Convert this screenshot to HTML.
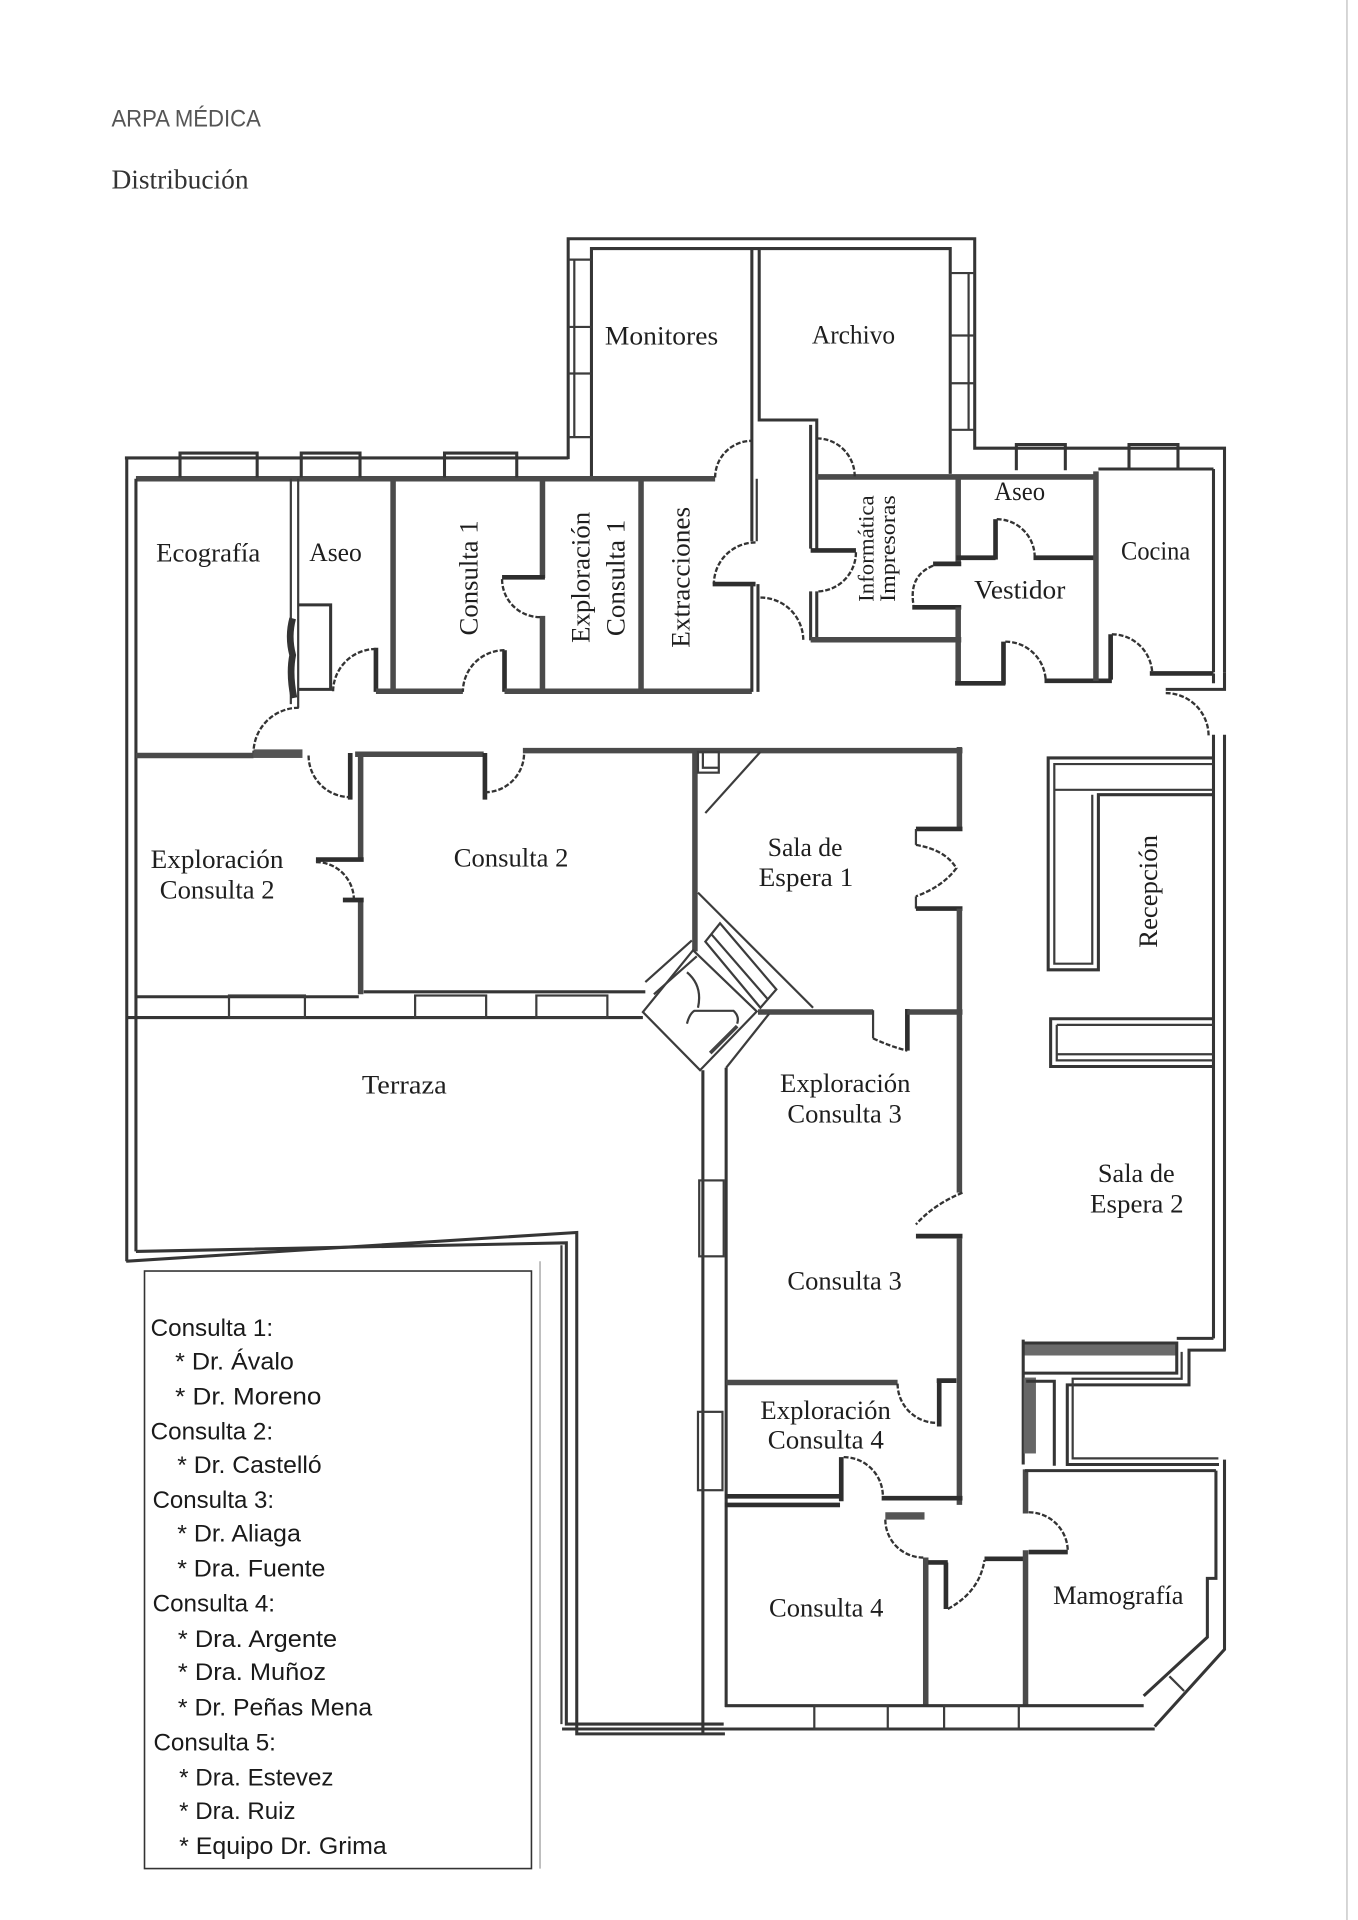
<!DOCTYPE html>
<html><head><meta charset="utf-8"><title>ARPA MÉDICA - Distribución</title>
<style>
html,body{margin:0;padding:0;background:#fff;}
svg{display:block;}
.w{stroke:#353535;stroke-width:2.5;fill:none;}
.h{stroke:#2e2e2e;stroke-width:3.8;fill:none;}
.b{stroke:#4a4a4a;stroke-width:4.5;fill:none;}
.n{stroke:#3c3c3c;stroke-width:1.8;fill:none;}
.a{stroke:#333;stroke-width:1.9;fill:none;stroke-dasharray:4 1.6;}
.lab{font-family:"Liberation Serif",serif;font-size:21.5px;fill:#1e1e1e;}
.sm{font-family:"Liberation Serif",serif;font-size:18.5px;fill:#1e1e1e;}
.leg{font-family:"Liberation Sans",sans-serif;font-size:20px;fill:#1a1a1a;}
</style></head><body>
<svg width="1358" height="1920" viewBox="0 0 1109 1568" xmlns="http://www.w3.org/2000/svg">
<rect x="0" y="0" width="1109" height="1568" fill="#fff"/>
<path d="M1100,0V1568" stroke="#c8c8c8" stroke-width="1.2"/>

<!-- header -->
<text x="91" y="103.5" font-family="Liberation Sans, sans-serif" font-size="19.5" fill="#555" textLength="122" lengthAdjust="spacingAndGlyphs">ARPA MÉDICA</text>
<text x="91" y="154" font-family="Liberation Serif, serif" font-size="22.5" fill="#333" textLength="112" lengthAdjust="spacingAndGlyphs">Distribución</text>

<!-- Monitores / Archivo block -->
<path class="w" d="M464,375V195H796V366H1000V549"/>
<path class="w" d="M483,391V203H776V387"/>
<path class="n" d="M464,212H483M464,267H483M464,305H483M464,357H483M469,212V357"/>
<path class="n" d="M776,223H796M776,274H796M776,313H796M776,351H796M791,223V351"/>
<path class="w" d="M620,203V343H667V448"/>
<path class="w" d="M614,203V442"/>
<path class="w" d="M662,347V448"/>
<path class="b" d="M111,391H584"/>
<path class="a" d="M584,390A30,30 0 0,1 614,360"/>
<path class="b" d="M667,389.5H897"/>
<path class="a" d="M667,358A31,31 0 0,1 698,389"/>

<!-- left wing top wall -->
<path class="w" d="M102,374H464"/>
<path class="w" d="M147,390V370H210V390M246,390V370H294V390M363,390V370H422V390"/>
<path class="w" d="M103.5,374V1030M111,391V1022"/>

<!-- row 1 interior -->
<path class="n" d="M237.5,391V575M243.5,391V578"/>
<path d="M239,505q-4,15 0,30q-3,15 1,35" stroke="#333" stroke-width="5.5" fill="none"/>
<path class="a" d="M244,578A37,37 0 0,0 207,615"/>
<rect x="207" y="612" width="40" height="7" fill="#555"/>
<path class="w" d="M244,494H270V563H244"/>
<path class="h" d="M307,529V565"/>
<path class="a" d="M307,530A35,35 0 0,0 272,565"/>
<path class="b" d="M321,391V565"/>
<path class="b" d="M307,564.5H378"/>
<path class="h" d="M412,531V565"/>
<path class="a" d="M412,531A34,34 0 0,0 378,565"/>
<path class="b" d="M412,564.5H614"/>
<path class="b" d="M443,391V472M443,503V565"/>
<path class="h" d="M410,471.5H445"/>
<path class="a" d="M410,473A31,31 0 0,0 441,504"/>
<path class="b" d="M523.5,391V565"/>
<path class="n" d="M618,391V442"/>
<path class="a" d="M617,443A34,34 0 0,0 583,477"/>
<path class="h" d="M582,477H617"/>
<path class="w" d="M614,477V565M619,477V565"/>
<path class="a" d="M621,488A35,35 0 0,1 656,523"/>
<path class="h" d="M662,449.5H699"/>
<path class="a" d="M699,451A32,32 0 0,1 667,483"/>
<path class="w" d="M662,483V523M667,483V521"/>
<path class="b" d="M662,522.5H785"/>
<path class="b" d="M782.5,390V461"/>
<path class="h" d="M762,460.5H785"/>
<path class="a" d="M762,462Q742,470 746,494"/>
<path class="h" d="M745,496H785"/>
<path class="b" d="M782.5,496V559"/>
<path class="h" d="M780,558H821"/>
<path class="h" d="M819.5,524V559"/>
<path class="a" d="M821,524A33,33 0 0,1 854,557"/>
<path class="h" d="M853,556H908"/>
<path class="h" d="M781,455.5H813"/>
<path class="h" d="M813,424V457"/>
<path class="a" d="M814,424A31,31 0 0,1 845,455"/>
<path class="h" d="M844,455.5H895"/>
<path class="b" d="M895,385V556"/>
<path class="w" d="M897,383H991"/>
<path class="w" d="M830,384V363H870V384M922,384V363H962V384"/>
<path class="w" d="M991,383V549"/>
<path class="h" d="M907,518V555"/>
<path class="a" d="M908,518A33,33 0 0,1 941,551"/>
<path class="h" d="M939,550H991"/>
<path class="w" d="M1000,549V563H952"/>
<path class="w" d="M991,550V558"/>
<path class="a" d="M952,566A35,35 0 0,1 987,601"/>
<path class="w" d="M991,600V1093M1000,600V1103"/>

<!-- row 2 -->
<path class="b" d="M111,617H207"/>
<path class="h" d="M286,615V653"/>
<path class="a" d="M252,617A34,34 0 0,0 286,651"/>
<path class="b" d="M290,616H395"/>
<path class="h" d="M396,615V653"/>
<path class="a" d="M396,647A32,32 0 0,0 428,615"/>
<path class="b" d="M427,613H786"/>
<path class="b" d="M294.5,615V702M294.5,735V812"/>
<path class="h" d="M258,702H297"/>
<path class="a" d="M258,704A31,31 0 0,1 289,735"/>
<path class="h" d="M280,735H297"/>
<path class="w" d="M111,814H293"/>
<path class="w" d="M297,810H527"/>
<path class="w" d="M104,831H525"/>
<rect class="n" x="187" y="813" width="62" height="18"/>
<rect class="n" x="339" y="813" width="58" height="18"/>
<rect class="n" x="438" y="813" width="58" height="18"/>
<path class="b" d="M567.5,614V777"/>
<rect class="n" x="570" y="614" width="17" height="17"/>
<path class="n" d="M574,614V627H587"/>
<path class="n" d="M576,664L621,614"/>
<path class="b" d="M783.5,610V677"/>
<path class="h" d="M748,677H786"/>
<path class="n" d="M748,677V690M748,732V742"/>
<path class="a" d="M748,690Q772,694 781,709Q770,724 748,732"/>
<path class="h" d="M748,742H786"/>
<path class="b" d="M783.5,742V974"/>
<path class="b" d="M619,826.5H713"/>
<path class="n" d="M713,825V848"/>
<path class="a" d="M713,848Q728,855 741,858"/>
<path class="h" d="M741,858V824"/>
<path class="b" d="M741,826.5H786"/>

<!-- stair / diamond -->
<path class="n" d="M570,729L664,823"/>
<path class="n" d="M576,769L588,754L634,808L621,823Z"/>
<path class="n" d="M581,763L627,816"/>
<path class="n" d="M525,826.5L566,776L618,826L571.7,874Z"/>
<path class="n" d="M527,802L565,768M534,812L569,781"/>
<path class="n" d="M593,872L628,828"/>
<path class="n" d="M561,794Q574,805 570,823M561,836Q563,828 567,825.5H599Q604,830 602,836"/>
<path d="M580,860L602,838" stroke="#444" stroke-width="3" fill="none"/>

<!-- terrace walls -->
<path class="w" d="M574,874V1416M593,872V1394"/>
<rect class="n" x="571" y="964" width="20" height="62"/>
<rect class="n" x="570" y="1153" width="20" height="64"/>
<path class="w" d="M103,1030L471,1006.5V1416H592"/>
<path class="w" d="M111,1022L462.5,1015V1408H591"/>
<path class="n" d="M458.5,1017V1408"/>

<!-- lower block -->
<path class="a" d="M786,974Q762,984 748,1000"/>
<path class="h" d="M748,1009.5H786"/>
<path class="b" d="M783.5,1011V1229"/>
<path class="b" d="M593,1129H733"/>
<path class="a" d="M733,1130A32,32 0 0,0 765,1162"/>
<path class="h" d="M767,1126V1165"/>
<path class="h" d="M765,1127.5H781"/>
<path class="h" d="M592,1222H686M592,1229H686"/>
<path class="h" d="M687,1190V1226"/>
<path class="a" d="M689,1190A32,32 0 0,1 721,1222"/>
<path class="h" d="M720,1223.5H786"/>
<rect x="723" y="1235" width="32" height="6" fill="#555"/>
<path class="a" d="M723,1241A31,31 0 0,0 754,1272"/>
<path class="b" d="M756,1272V1394"/>
<path class="h" d="M758,1276H774"/>
<path class="h" d="M772.5,1276V1314"/>
<path class="a" d="M774,1314Q800,1300 804,1274"/>
<path class="h" d="M804,1273H837"/>
<path class="b" d="M837.5,1266V1392"/>
<path class="b" d="M837.5,1200V1236"/>
<path class="a" d="M840,1235A32,32 0 0,1 872,1267"/>
<path class="h" d="M840,1267.5H872"/>
<path class="w" d="M837,1201H993"/>
<path class="w" d="M1000,1192V1347L943,1410"/>
<path class="w" d="M993,1201V1289H986V1337L934,1385"/>
<path class="n" d="M955,1369L967,1381"/>
<path class="w" d="M592,1393H934M459,1412H943"/>
<rect class="n" x="665" y="1393" width="60" height="19"/>
<rect class="n" x="771" y="1393" width="61" height="19"/>

<!-- below sala de espera 2 -->
<rect x="836" y="1097" width="125" height="10" fill="#6a6a6a"/>
<path class="w" d="M835.6,1094V1196M835.6,1096.8H961V1121.4H835.6"/>
<path class="w" d="M961,1093H991"/>
<path class="w" d="M1001,1102.6H971V1131H871.6V1196H995.5"/>
<path class="n" d="M965,1104V1126H876V1191H995"/>
<rect x="836" y="1125" width="10" height="62" fill="#666"/>
<path class="w" d="M838,1128H861V1197"/>

<!-- reception counters -->
<path class="w" d="M991,619H856V792H897V649H991"/>
<path class="n" d="M991,624H861V787H892V649"/>
<path class="n" d="M861,645H991"/>
<path class="w" d="M991,832H858V871H991"/>
<path class="n" d="M863,837H991M863,837V866H991M863,861H991"/>

<!-- room labels -->
<text class="lab" x="494" y="281.5" textLength="92.5" lengthAdjust="spacingAndGlyphs">Monitores</text>
<text class="lab" x="663" y="280.5" textLength="68" lengthAdjust="spacingAndGlyphs">Archivo</text>
<text class="lab" x="127.5" y="458.5" textLength="85" lengthAdjust="spacingAndGlyphs">Ecografía</text>
<text class="lab" x="252.5" y="458" textLength="43" lengthAdjust="spacingAndGlyphs">Aseo</text>
<text class="lab" transform="translate(390,472) rotate(-90)" x="-47" y="0" textLength="94" lengthAdjust="spacingAndGlyphs">Consulta 1</text>
<text class="lab" transform="translate(481.5,471.5) rotate(-90)" x="-53.5" y="0" textLength="107" lengthAdjust="spacingAndGlyphs">Exploración</text>
<text class="lab" transform="translate(510,472) rotate(-90)" x="-47.5" y="0" textLength="95" lengthAdjust="spacingAndGlyphs">Consulta 1</text>
<text class="lab" transform="translate(563,471.5) rotate(-90)" x="-57.5" y="0" textLength="115" lengthAdjust="spacingAndGlyphs">Extracciones</text>
<text class="sm" transform="translate(713.5,448) rotate(-90)" x="-43.5" y="0" textLength="87" lengthAdjust="spacingAndGlyphs">Informática</text>
<text class="sm" transform="translate(731,448) rotate(-90)" x="-43.5" y="0" textLength="87" lengthAdjust="spacingAndGlyphs">Impresoras</text>
<text class="lab" x="812" y="408.3" textLength="41.5" lengthAdjust="spacingAndGlyphs">Aseo</text>
<text class="lab" x="795.5" y="488.6" textLength="74.5" lengthAdjust="spacingAndGlyphs">Vestidor</text>
<text class="lab" x="915.5" y="456.8" textLength="56.5" lengthAdjust="spacingAndGlyphs">Cocina</text>
<text class="lab" x="123" y="709" textLength="108.5" lengthAdjust="spacingAndGlyphs">Exploración</text>
<text class="lab" x="130.5" y="733.7" textLength="93.7" lengthAdjust="spacingAndGlyphs">Consulta 2</text>
<text class="lab" x="370.5" y="707.8" textLength="93.7" lengthAdjust="spacingAndGlyphs">Consulta 2</text>
<text class="lab" x="627" y="699" textLength="61" lengthAdjust="spacingAndGlyphs">Sala de</text>
<text class="lab" x="619.5" y="723.7" textLength="77.3" lengthAdjust="spacingAndGlyphs">Espera 1</text>
<text class="lab" transform="translate(945,728) rotate(-90)" x="-46" y="0" textLength="92" lengthAdjust="spacingAndGlyphs">Recepción</text>
<text class="lab" x="295.5" y="892.9" textLength="69.3" lengthAdjust="spacingAndGlyphs">Terraza</text>
<text class="lab" x="637" y="891.6" textLength="106.5" lengthAdjust="spacingAndGlyphs">Exploración</text>
<text class="lab" x="643" y="916.8" textLength="93.4" lengthAdjust="spacingAndGlyphs">Consulta 3</text>
<text class="lab" x="896.6" y="965.3" textLength="62.7" lengthAdjust="spacingAndGlyphs">Sala de</text>
<text class="lab" x="890.2" y="990.2" textLength="76.4" lengthAdjust="spacingAndGlyphs">Espera 2</text>
<text class="lab" x="643" y="1053" textLength="93.4" lengthAdjust="spacingAndGlyphs">Consulta 3</text>
<text class="lab" x="621" y="1159" textLength="106.5" lengthAdjust="spacingAndGlyphs">Exploración</text>
<text class="lab" x="627" y="1183" textLength="94.8" lengthAdjust="spacingAndGlyphs">Consulta 4</text>
<text class="lab" x="628" y="1320" textLength="93.4" lengthAdjust="spacingAndGlyphs">Consulta 4</text>
<text class="lab" x="860" y="1310" textLength="106.5" lengthAdjust="spacingAndGlyphs">Mamografía</text>

<!-- legend -->
<rect x="118" y="1038" width="316" height="488" fill="none" stroke="#333" stroke-width="1.3"/>
<path d="M441,1030V1526" stroke="#999" stroke-width="1"/>
<text class="leg" x="123" y="1091" textLength="100" lengthAdjust="spacingAndGlyphs">Consulta 1:</text>
<text class="leg" x="143" y="1118.5" textLength="97" lengthAdjust="spacingAndGlyphs">* Dr. Ávalo</text>
<text class="leg" x="143" y="1147" textLength="119.5" lengthAdjust="spacingAndGlyphs">* Dr. Moreno</text>
<text class="leg" x="123" y="1175.5" textLength="100" lengthAdjust="spacingAndGlyphs">Consulta 2:</text>
<text class="leg" x="144.7" y="1203" textLength="118" lengthAdjust="spacingAndGlyphs">* Dr. Castelló</text>
<text class="leg" x="124.6" y="1231.5" textLength="99.2" lengthAdjust="spacingAndGlyphs">Consulta 3:</text>
<text class="leg" x="144.7" y="1259" textLength="101" lengthAdjust="spacingAndGlyphs">* Dr. Aliaga</text>
<text class="leg" x="144.7" y="1287.5" textLength="121" lengthAdjust="spacingAndGlyphs">* Dra. Fuente</text>
<text class="leg" x="124.6" y="1316" textLength="100" lengthAdjust="spacingAndGlyphs">Consulta 4:</text>
<text class="leg" x="145.3" y="1345" textLength="130" lengthAdjust="spacingAndGlyphs">* Dra. Argente</text>
<text class="leg" x="145.3" y="1372" textLength="121" lengthAdjust="spacingAndGlyphs">* Dra. Muñoz</text>
<text class="leg" x="145.3" y="1401" textLength="158.6" lengthAdjust="spacingAndGlyphs">* Dr. Peñas Mena</text>
<text class="leg" x="125.3" y="1429.5" textLength="100" lengthAdjust="spacingAndGlyphs">Consulta 5:</text>
<text class="leg" x="146.3" y="1458" textLength="126" lengthAdjust="spacingAndGlyphs">* Dra. Estevez</text>
<text class="leg" x="146.3" y="1485.5" textLength="95" lengthAdjust="spacingAndGlyphs">* Dra. Ruiz</text>
<text class="leg" x="146.3" y="1514" textLength="169.5" lengthAdjust="spacingAndGlyphs">* Equipo Dr. Grima</text>
</svg>
</body></html>
